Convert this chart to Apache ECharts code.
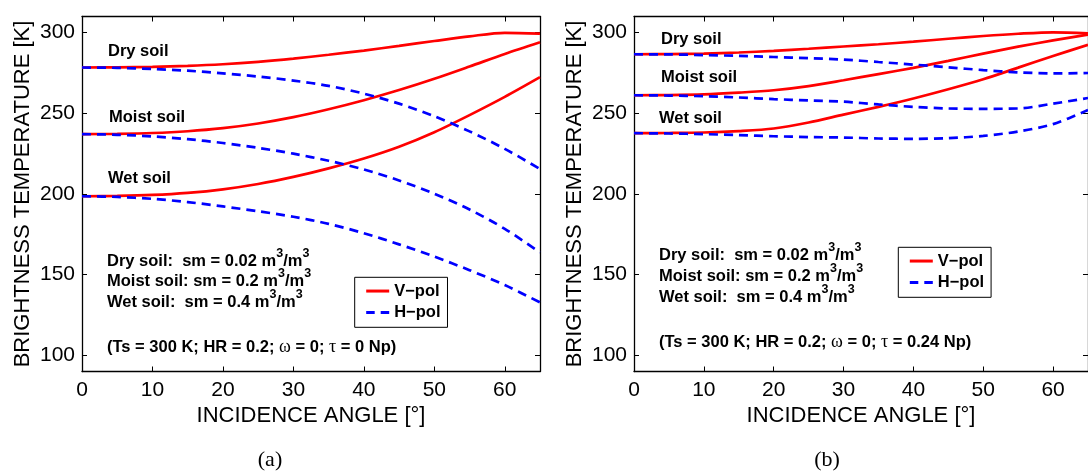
<!DOCTYPE html>
<html><head><meta charset="utf-8">
<script src="https://cdn.jsdelivr.net/npm/echarts@6/dist/echarts.min.js"></script>
<style>html,body{margin:0;padding:0;background:#fff}#c{width:1088px;height:471px}</style>
</head><body><div id="c"></div>
<script>
// ---- data ----
const angles = [0, 5, 10, 15, 20, 25, 30, 35, 40, 45, 50, 55, 60, 65];
const xTicks = [0, 10, 20, 30, 40, 50, 60];
const yTicks = [100, 150, 200, 250, 300];

// (a) tau = 0 Np
const dryV_a   = [278.4, 278.5, 278.8, 279.4, 280.4, 281.9, 283.9, 286.3, 288.9, 291.8, 294.8, 297.7, 299.9, 299.4];
const dryH_a   = [278.4, 278.2, 277.5, 276.4, 274.8, 272.8, 270.3, 267.0, 262.2, 256.0, 248.2, 238.8, 228.0, 215.5];
const moistV_a = [237.1, 237.3, 237.8, 238.9, 240.8, 243.7, 247.6, 252.5, 258.1, 264.4, 271.4, 279.0, 286.8, 294.0];
const moistH_a = [237.1, 236.7, 235.7, 234.0, 231.6, 228.6, 225.0, 220.6, 215.2, 208.4, 200.2, 190.4, 178.4, 163.8];
const wetV_a   = [198.6, 198.8, 199.4, 200.7, 202.9, 206.2, 210.6, 215.9, 222.0, 229.3, 238.3, 248.9, 260.2, 272.4];
const wetH_a   = [198.6, 198.2, 197.0, 195.0, 192.3, 189.3, 185.9, 181.5, 175.7, 168.8, 161.2, 152.8, 143.6, 132.8];

// (b) tau = 0.24 Np
const dryV_b   = [286.6, 286.7, 287.0, 287.7, 288.7, 290.0, 291.4, 292.8, 294.4, 296.2, 297.9, 299.3, 300.2, 299.6];
const dryH_b   = [286.6, 286.5, 286.1, 285.6, 284.9, 284.2, 283.3, 281.8, 280.2, 278.5, 276.8, 275.4, 274.7, 275.0];
const moistV_b = [261.2, 261.3, 261.7, 262.8, 264.3, 266.9, 270.5, 274.3, 278.2, 282.5, 287.0, 291.3, 295.2, 298.8];
const moistH_b = [261.2, 261.0, 260.6, 259.8, 258.8, 258.0, 257.2, 255.5, 254.0, 253.0, 252.8, 253.0, 256.0, 259.5];
const wetV_b   = [237.7, 237.8, 238.1, 239.0, 240.6, 244.3, 249.2, 254.0, 259.2, 264.9, 271.1, 278.3, 285.5, 292.5];
const wetH_b   = [237.7, 237.5, 237.1, 236.5, 235.8, 235.3, 235.0, 234.4, 234.2, 234.6, 236.0, 238.7, 243.3, 252.0];

const V_NAME = 'V\u2212pol', H_NAME = 'H\u2212pol';
const SANS = '"Liberation Sans", Arial, sans-serif';
const SERIF = '"Liberation Serif", "DejaVu Serif", serif';

// ---- build ----
const chart = echarts.init(document.getElementById('c'), null, {renderer: 'canvas'});
const axisLine = {show: true, onZero: false, lineStyle: {color: '#000', width: 1.3}};
const tick = (vals) => ({show: true, inside: true, length: 5, customValues: vals, lineStyle: {color: '#000', width: 1}});

function xAxes(gi) {
  return [
    {type: 'value', gridIndex: gi, min: 0, max: 65, position: 'bottom',
     axisLine, axisTick: tick(xTicks), splitLine: {show: false},
     axisLabel: {customValues: xTicks, color: '#000', fontSize: 21, fontFamily: SANS, margin: 8},
     name: 'INCIDENCE ANGLE [°]', nameLocation: 'middle', nameGap: 26,
     nameTextStyle: {color: '#000', fontSize: 22, fontFamily: SANS}},
    {type: 'value', gridIndex: gi, min: 0, max: 65, position: 'top',
     axisLine, axisTick: tick(xTicks), splitLine: {show: false},
     axisLabel: {show: false, customValues: xTicks}}
  ];
}
function yAxes(gi) {
  return [
    {type: 'value', gridIndex: gi, min: 90, max: 310, position: 'left',
     axisLine, axisTick: tick(yTicks), splitLine: {show: false},
     axisLabel: {customValues: yTicks, color: '#000', fontSize: 21, fontFamily: SANS, margin: 7},
     name: 'BRIGHTNESS TEMPERATURE [K]', nameLocation: 'middle', nameGap: 48, nameRotate: 90,
     nameTextStyle: {color: '#000', fontSize: 22, fontFamily: SANS}},
    {type: 'value', gridIndex: gi, min: 90, max: 310, position: 'right',
     axisLine, axisTick: tick(yTicks), splitLine: {show: false},
     axisLabel: {show: false, customValues: yTicks}}
  ];
}

function line(name, vals, xi, yi, dashed) {
  return {
    type: 'line', name, xAxisIndex: xi, yAxisIndex: yi,
    data: angles.map((a, i) => [a, vals[i]]),
    symbol: 'none', smooth: 0.3, silent: true,
    lineStyle: dashed ? {color: '#0000ff', width: 2.7, type: [9, 6]} : {color: '#ff0000', width: 2.7},
    itemStyle: {color: dashed ? '#0000ff' : '#ff0000'},
    z: dashed ? 3 : 2
  };
}

const series = [
  line(V_NAME, dryV_a, 0, 0, false), line(V_NAME, moistV_a, 0, 0, false), line(V_NAME, wetV_a, 0, 0, false),
  line(H_NAME, dryH_a, 0, 0, true),  line(H_NAME, moistH_a, 0, 0, true),  line(H_NAME, wetH_a, 0, 0, true),
  line(V_NAME, dryV_b, 2, 2, false), line(V_NAME, moistV_b, 2, 2, false), line(V_NAME, wetV_b, 2, 2, false),
  line(H_NAME, dryH_b, 2, 2, true),  line(H_NAME, moistH_b, 2, 2, true),  line(H_NAME, wetH_b, 2, 2, true)
];

function legend(left, top) {
  return {
    data: [
      {name: V_NAME, icon: 'path://M0,0h23v3h-23z', itemStyle: {color: '#ff0000', borderWidth: 0}},
      {name: H_NAME, icon: 'path://M0,0h8.5v3h-8.5zM14.5,0h8.5v3h-8.5z', itemStyle: {color: '#0000ff', borderWidth: 0}}
    ],
    orient: 'vertical', left, top,
    backgroundColor: '#fff', borderColor: '#000', borderWidth: 1, borderRadius: 0,
    padding: [5.25, 7, 6.25, 11.5], itemWidth: 23, itemHeight: 3, itemGap: 4.5,
    selectedMode: false,
    textStyle: {color: '#000', fontSize: 16.5, fontWeight: 'bold', fontFamily: SANS}
  };
}

const RICH = {
  g: {fontFamily: SERIF, fontSize: 18, fontWeight: 'normal', fill: '#000'},
  s: {fontFamily: SANS, fontSize: 12.5, fontWeight: 'bold', fill: '#000', lineHeight: 12.5,
      padding: [0, 0, 15, 0], verticalAlign: 'middle'}
};
function txt(x, y, text) {
  return {
    type: 'text', x, y, silent: true, z: 10,
    style: {text, fill: '#000', fontSize: 16.5, fontWeight: 'bold', fontFamily: SANS,
            verticalAlign: 'middle', align: 'left', rich: RICH}
  };
}

const graphics = [
  txt(108, 51.5, 'Dry soil'), txt(109, 117.3, 'Moist soil'), txt(108, 178, 'Wet soil'),
  txt(107, 261, 'Dry soil:  sm = 0.02 m{s|3}/m{s|3}'),
  txt(107, 281.5, 'Moist soil: sm = 0.2 m{s|3}/m{s|3}'),
  txt(107, 302, 'Wet soil:  sm = 0.4 m{s|3}/m{s|3}'),
  txt(107, 347.5, '(Ts = 300 K; HR = 0.2; {g|ω} = 0; {g|τ} = 0 Np)'),
  txt(661, 39, 'Dry soil'), txt(661, 77, 'Moist soil'), txt(659, 118, 'Wet soil'),
  txt(659, 255, 'Dry soil:  sm = 0.02 m{s|3}/m{s|3}'),
  txt(659, 276, 'Moist soil: sm = 0.2 m{s|3}/m{s|3}'),
  txt(659, 297, 'Wet soil:  sm = 0.4 m{s|3}/m{s|3}'),
  txt(659, 342.5, '(Ts = 300 K; HR = 0.2; {g|ω} = 0; {g|τ} = 0.24 Np)'),
  {type: 'text', x: 270, y: 460, silent: true,
   style: {text: '(a)', fill: '#000', fontSize: 22, fontFamily: SERIF, align: 'center', verticalAlign: 'middle'}},
  {type: 'text', x: 827, y: 460, silent: true,
   style: {text: '(b)', fill: '#000', fontSize: 22, fontFamily: SERIF, align: 'center', verticalAlign: 'middle'}}
];

chart.setOption({
  animation: false,
  backgroundColor: '#fff',
  grid: [
    {left: 82, top: 16.5, width: 458, height: 355, containLabel: false},
    {left: 634, top: 16.5, width: 458, height: 355, containLabel: false}
  ],
  xAxis: [...xAxes(0), ...xAxes(1)],
  yAxis: [...yAxes(0), ...yAxes(1)],
  legend: [legend(354.7, 277.3), legend(898.3, 247.3)],
  series,
  graphic: graphics
});
</script></body></html>
